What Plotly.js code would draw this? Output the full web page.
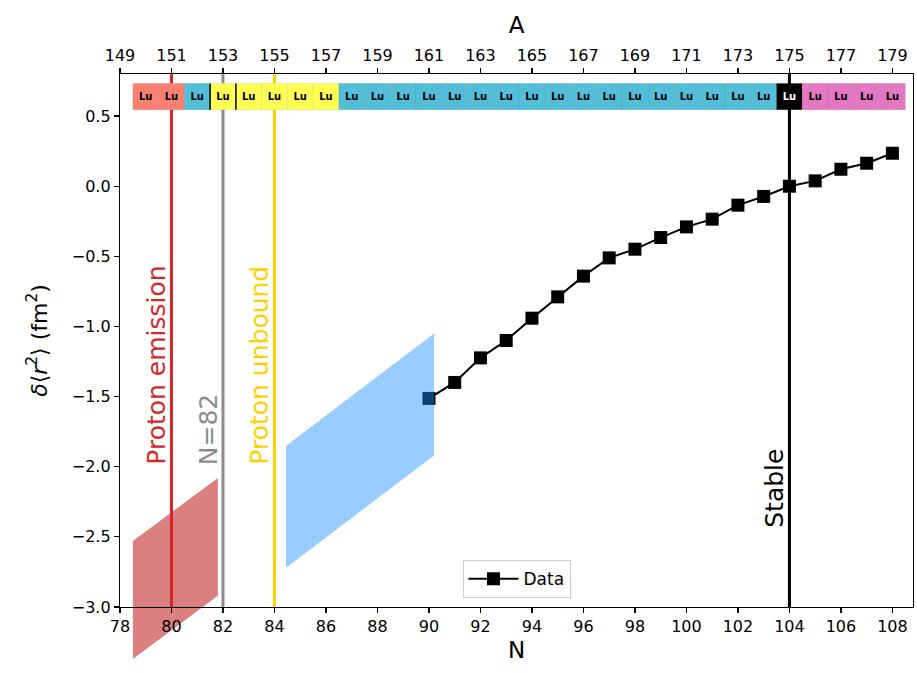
<!DOCTYPE html>
<html>
<head>
<meta charset="utf-8">
<script src="https://cdn.plot.ly/plotly-3.0.1.min.js"></script>
<style>html,body{margin:0;padding:0;background:#fff}#chart{width:917px;height:673px}</style>
</head>
<body>
<div id="chart"></div>
<script>
// ---------- data ----------
const Z = 71; // lutetium, A = Z + N
const isotopeN = [79,80,81,82,83,84,85,86,87,88,89,90,91,92,93,94,95,96,97,98,99,100,101,102,103,104,105,106,107,108];
const isotopeSymbol = ['Lu','Lu','Lu','Lu','Lu','Lu','Lu','Lu','Lu','Lu','Lu','Lu','Lu','Lu','Lu','Lu','Lu','Lu','Lu','Lu','Lu','Lu','Lu','Lu','Lu','Lu','Lu','Lu','Lu','Lu'];
const decayMode = ['p','p','b+','a','a','a','a','a',
  'b+','b+','b+','b+','b+','b+','b+','b+','b+','b+','b+','b+','b+','b+','b+','b+','b+',
  'stable','b-','b-','b-','b-'];

const dataN = [90,91,92,93,94,95,96,97,98,99,100,101,102,103,104,105,106,107,108];
const dR2 = [-1.513,-1.399,-1.224,-1.100,-0.941,-0.789,-0.641,-0.511,-0.449,-0.366,-0.290,-0.235,-0.135,-0.073,0.000,0.038,0.121,0.164,0.235];

const redBandN = [78.5, 81.8, 81.8, 78.5];
const redBandY = [-2.53, -2.08, -2.92, -3.37];
const blueBandN = [84.45, 90.2, 90.2, 84.45];
const blueBandY = [-1.85, -1.05, -1.92, -2.72];

const markerN = [80, 82, 84, 104];
const markerLabel = ['Proton emission', 'N=82', 'Proton unbound', 'Stable'];

const xTicksN = [78,80,82,84,86,88,90,92,94,96,98,100,102,104,106,108];
const yTicks = [-3.0,-2.5,-2.0,-1.5,-1.0,-0.5,0.0,0.5];
const magicN = 82;

// ---------- styles / layout ----------
const modeColor = {'p':'rgb(250,128,114)','a':'rgb(255,255,84)','b+':'rgb(82,190,216)','stable':'#000000','b-':'rgb(227,119,194)'};
const markerColor = ['#d62728','#8c8c8c','#ffd000','#000000'];
const labelBottomY = [-2.0, -2.0, -2.0, -2.45];
const xRange = [78, 108.8];
const yRange = [-3.0, 0.8];
const stripBase = 0.545, stripTop = 0.733;

const W = 917, H = 673;
const mL = 120, mR = 4, mT = 74, mB = 8;
const mainBottomPx = 607;
const d0 = (H - mB - mainBottomPx) / (H - mT - mB);
const patchLow = yRange[1] - (yRange[1] - yRange[0]) / (1 - d0);

const font = 'DejaVu Sans';

const traces = [];
// red band on a lower subplot (drawn below everything else, may extend under the axis)
traces.push({type:'scatter', x:redBandN, y:redBandY, xaxis:'x', yaxis:'y', mode:'lines', fill:'toself',
  fillcolor:'rgba(200,60,60,0.66)', line:{width:0, color:'rgba(0,0,0,0)'}, showlegend:false, hoverinfo:'skip'});
// data
traces.push({type:'scatter', x:dataN, y:dR2, xaxis:'x2', yaxis:'y2', mode:'lines+markers', name:'Data',
  line:{color:'black', width:2}, marker:{symbol:'square', size:13, color:'black'}, showlegend:true});
// same data against mass number A (invisible, carries the top axis)
traces.push({type:'scatter', x:dataN.map(n => n + Z), y:dR2, xaxis:'x3', yaxis:'y2', mode:'markers',
  marker:{size:1, color:'rgba(0,0,0,0)'}, showlegend:false, hoverinfo:'skip'});
// blue band above data
traces.push({type:'scatter', x:blueBandN, y:blueBandY, xaxis:'x2', yaxis:'y2', mode:'lines', fill:'toself',
  fillcolor:'rgba(30,144,255,0.45)', line:{width:0, color:'rgba(0,0,0,0)'}, showlegend:false, hoverinfo:'skip'});
// isotope strip
traces.push({type:'bar', x:isotopeN, y:isotopeN.map(()=>stripTop - stripBase), base:stripBase, width:1,
  xaxis:'x2', yaxis:'y2', text:isotopeSymbol, textposition:'inside', insidetextanchor:'middle', constraintext:'none',
  textangle:0,
  textfont:{family:font, size:10, weight:'bold', color:decayMode.map(m => m==='stable' ? 'white' : 'black')},
  marker:{color:decayMode.map(m => modeColor[m]), line:{color:'rgba(0,0,0,0.12)', width:0.6}},
  showlegend:false, hoverinfo:'skip'});

// vertical marker lines, interrupted by the isotope strip
const shapes = [];
markerN.forEach((n,i) => {
  shapes.push({type:'line', xref:'x2', yref:'y2', x0:n, x1:n, y0:yRange[0], y1:stripBase,
    line:{color:markerColor[i], width:3}, layer:'below'});
  if (n !== 104) shapes.push({type:'line', xref:'x2', yref:'y2', x0:n, x1:n, y0:stripTop, y1:yRange[1],
    line:{color:markerColor[i], width:3}, layer:'below'});
  else shapes.push({type:'line', xref:'x2', yref:'y2', x0:n, x1:n, y0:stripBase, y1:yRange[1],
    line:{color:markerColor[i], width:3}, layer:'below'});
});
// magic-number box edges in the strip
[-0.5, 0.5].forEach(d => shapes.push({type:'line', xref:'x2', yref:'y2', x0:magicN + d, x1:magicN + d,
  y0:stripBase, y1:stripTop, line:{color:'black', width:1.5}, layer:'above'}));

const annotations = markerN.map((n,i) => ({xref:'x2', yref:'y2', x:n, y:labelBottomY[i], xanchor:'center', yanchor:'bottom',
  xshift:-15, textangle:-90, text:markerLabel[i], showarrow:false, font:{family:font, size:25, color:markerColor[i]}}));

const axisCommon = {ticks:'outside', ticklen:5, tickwidth:1.2, tickcolor:'black', showline:true, linecolor:'black', linewidth:1.2,
  showgrid:false, zeroline:false, tickfont:{family:font, size:16, color:'black'}};

const layout = {
  width:W, height:H,
  margin:{l:mL, r:mR, t:mT, b:mB, pad:0},
  paper_bgcolor:'white', plot_bgcolor:'rgba(0,0,0,0)',
  font:{family:font, size:16, color:'black'},
  showlegend:true,
  legend:{x:0.5, xanchor:'center', y:0.113, yanchor:'bottom', bordercolor:'#cccccc', borderwidth:1, bgcolor:'white',
          font:{family:font, size:17}, itemwidth:50},
  xaxis:{domain:[0,1], range:xRange, visible:false, anchor:'y'},
  yaxis:{domain:[0,1], range:[patchLow, yRange[1]], visible:false, anchor:'x'},
  xaxis2:Object.assign({}, axisCommon, {domain:[0,1], anchor:'y2', range:xRange, tickmode:'array', tickvals:xTicksN,
    ticktext:xTicksN.map(String), mirror:true, title:{text:'N', font:{family:font, size:23}, standoff:6}}),
  yaxis2:Object.assign({}, axisCommon, {domain:[d0,1], anchor:'x2', range:yRange, tickmode:'array', tickvals:yTicks,
    ticktext:yTicks.map(v => (v<0?'\u2212':'') + Math.abs(v).toFixed(1)), mirror:true,
    title:{text:'<i>δ</i>⟨<i>r</i><sup>2</sup>⟩ (fm<sup>2</sup>)', font:{family:font, size:22}, standoff:18}}),
  xaxis3:Object.assign({}, axisCommon, {overlaying:'x2', anchor:'y2', side:'top', range:[xRange[0]+Z, xRange[1]+Z],
    tickmode:'array', tickvals:xTicksN.map(n => n+Z), ticktext:xTicksN.map(n => String(n+Z)),
    title:{text:'A', font:{family:font, size:23}, standoff:6}}),
  shapes:shapes,
  annotations:annotations
};

Plotly.newPlot('chart', traces, layout, {displayModeBar:false, staticPlot:true});
</script>
</body>
</html>
